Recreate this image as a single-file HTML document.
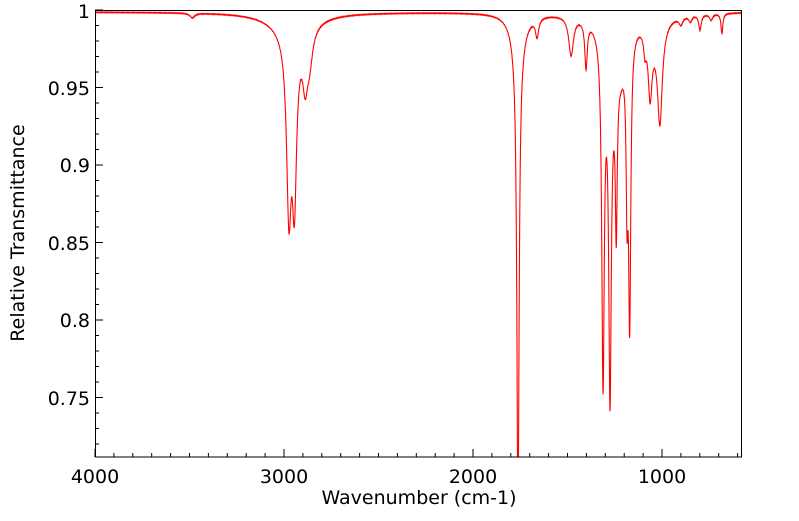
<!DOCTYPE html>
<html><head><meta charset="utf-8"><style>
body{margin:0;background:#fff;width:799px;height:516px;overflow:hidden;font-family:"Liberation Sans","DejaVu Sans",sans-serif}
</style></head><body>
<svg id="s" width="799" height="516" xmlns="http://www.w3.org/2000/svg" font-family="DejaVu Sans, Liberation Sans, sans-serif">
<defs><clipPath id="c"><rect x="95" y="10" width="647" height="447"/></clipPath></defs>
<g id="ticks" stroke="#000" stroke-width="1"></g>
<polyline id="p" clip-path="url(#c)" fill="none" stroke="#ff0000" stroke-width="1.1"/>
<rect x="95.5" y="10.5" width="646" height="446.5" fill="none" stroke="#000" stroke-width="1"/>
<g font-size="19" fill="#000">
<text x="90" y="18" text-anchor="end">1</text>
<text x="90" y="95" text-anchor="end">0.95</text>
<text x="90" y="172" text-anchor="end">0.9</text>
<text x="90" y="250" text-anchor="end">0.85</text>
<text x="90" y="327" text-anchor="end">0.8</text>
<text x="90" y="405" text-anchor="end">0.75</text>
<text x="95" y="483" text-anchor="middle">4000</text>
<text x="284" y="483" text-anchor="middle">3000</text>
<text x="473" y="483" text-anchor="middle">2000</text>
<text x="662" y="483" text-anchor="middle">1000</text>
<text x="419" y="504" text-anchor="middle">Wavenumber (cm-1)</text>
<text transform="translate(24,233) rotate(-90)" text-anchor="middle">Relative Transmittance</text>
</g>
</svg>
<script>
var X=function(w){return 95+(4000-w)*0.189};
var Y=function(t){return 10+(1-t)*1550};
var P=[[3485,0.003,15],[2960,0.012,120],[2974,0.11,15],[2945,0.10,14],[2888,0.03,16],[2865,0.02,20],
[1762,0.30,7],[1762,0.025,35],[1661,0.012,10],[1481,0.025,15],[1402,0.03,8],
[1312,0.22,8],[1275,0.21,8],[1242,0.10,6],[1265,0.03,40],[1185,0.09,6],[1171,0.18,7],[1215,0.02,30],
[1090,0.012,8],[1063,0.04,12],[1011,0.06,15],[1040,0.012,50],
[900,0.005,12],[850,0.004,10],[799,0.01,8],[740,0.004,10],[683,0.013,6]];
var pts=[];
for(var w=4000;w>=575;w-=1){var a=0.001+((w*7919)%13)/13*0.0006;
for(var i=0;i<P.length;i++){var d=(w-P[i][0])/P[i][2];a+=P[i][1]/(1+d*d);}
pts.push(X(w).toFixed(2)+","+Y(1-a).toFixed(2));}
document.getElementById('p').setAttribute('points',pts.join(' '));
var g=document.getElementById('ticks'),h='';
for(var w=4000;w>=600;w-=100){var x=X(w).toFixed(1),L=(w%1000==0)?8:4;h+='<line x1="'+x+'" y1="457" x2="'+x+'" y2="'+(457-L)+'"/>';}
for(var k=0;k<=29;k++){var t=1-k*0.01,y=Y(t);if(y>457)break;var L=(k%5==0)?8:4;h+='<line x1="95" y1="'+y.toFixed(1)+'" x2="'+(95+L)+'" y2="'+y.toFixed(1)+'"/>';}
g.innerHTML=h;
</script>
</body></html>
